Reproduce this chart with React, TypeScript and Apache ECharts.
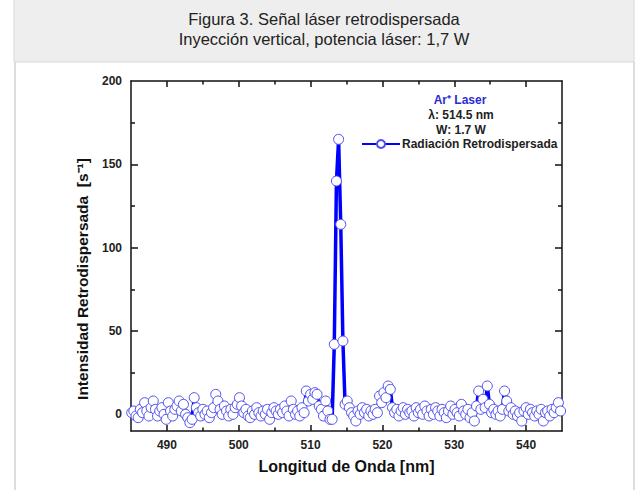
import React, { useEffect, useRef } from "react";
import * as echarts from "echarts";

const titleLines = [
  "Figura 3. Señal láser retrodispersada",
  "Inyección vertical, potencia láser: 1,7 W",
];
const xAxisTitle = "Longitud de Onda [nm]";
const yAxisTitle = "Intensidad Retrodispersada  [s⁻¹]";
const seriesName = "Radiación Retrodispersada";
const noteLines = ["Ar⁺ Laser", "λ: 514.5 nm", "W: 1.7 W"];

const xMajorTicks = [490, 500, 510, 520, 530, 540];
const xMinorTicks = [495, 505, 515, 525, 535];
const yMajorTicks = [0, 50, 100, 150];
const yLabelTicks = [0, 50, 100, 150, 200];
const yMinorTicks = [25, 75, 125, 175];

const wavelengths = [
  485.1, 485.4, 485.7, 486.0, 486.3, 486.6, 486.9, 487.2, 487.5, 487.8,
  488.1, 488.4, 488.7, 489.0, 489.3, 489.6, 489.9, 490.2, 490.5, 490.8,
  491.1, 491.4, 491.7, 492.0, 492.3, 492.6, 492.9, 493.2, 493.5, 493.8,
  494.1, 494.4, 494.7, 495.0, 495.3, 495.6, 495.9, 496.2, 496.5, 496.8,
  497.1, 497.4, 497.7, 498.0, 498.3, 498.6, 498.9, 499.2, 499.5, 499.8,
  500.1, 500.4, 500.7, 501.0, 501.3, 501.6, 501.9, 502.2, 502.5, 502.8,
  503.1, 503.4, 503.7, 504.0, 504.3, 504.6, 504.9, 505.2, 505.5, 505.8,
  506.1, 506.4, 506.7, 507.0, 507.3, 507.6, 507.9, 508.2, 508.5, 508.8,
  509.1, 509.4, 509.7, 510.0, 510.3, 510.6, 510.9, 511.2, 511.5, 511.8,
  512.1, 512.4, 512.7, 513.0, 513.3, 513.6, 513.9, 514.2, 514.5, 514.8,
  515.1, 515.4, 515.7, 516.0, 516.3, 516.6, 516.9, 517.2, 517.5, 517.8,
  518.1, 518.4, 518.7, 519.0, 519.3, 519.6, 519.9, 520.2, 520.5, 520.8,
  521.1, 521.4, 521.7, 522.0, 522.3, 522.6, 522.9, 523.2, 523.5, 523.8,
  524.1, 524.4, 524.7, 525.0, 525.3, 525.6, 525.9, 526.2, 526.5, 526.8,
  527.1, 527.4, 527.7, 528.0, 528.3, 528.6, 528.9, 529.2, 529.5, 529.8,
  530.1, 530.4, 530.7, 531.0, 531.3, 531.6, 531.9, 532.2, 532.5, 532.8,
  533.1, 533.4, 533.7, 534.0, 534.3, 534.6, 534.9, 535.2, 535.5, 535.8,
  536.1, 536.4, 536.7, 537.0, 537.3, 537.6, 537.9, 538.2, 538.5, 538.8,
  539.1, 539.4, 539.7, 540.0, 540.3, 540.6, 540.9, 541.2, 541.5, 541.8,
  542.1, 542.4, 542.7, 543.0, 543.3, 543.6, 543.9, 544.2, 544.5, 544.8,
];

const intensities = [
  1, 2, -1, -2, 3, 1, 7, 2, -1, 4,
  8, 3, -1, 2, 4, 0, -3, 7, 2, -1,
  3, 5, 8, 2, 6, 0, -2, -5, -3, 10,
  4, 1, -1, 3, 0, 2, -2, 1, 4, 12,
  8, 3, 0, 5, 2, -1, 3, 0, 4, 6,
  10, 5, 1, 3, -1, -2, 2, 0, 4, 1,
  -1, 2, 0, 3, -3, 1, 4, 2, 0, 3,
  1, 5, 2, -1, 8, 3, 0, 2, -1, 4,
  1, 14, 8, 12, 9, 13, 12, 5, 3, -1,
  8, 2, -3, -3, 42, 140, 165, 114, 44, 6,
  8, 4, 1, -1, -4, 2, 0, 4, 1, 3,
  -1, 2, 0, 3, 1, 11, 7, 13, 10, 17,
  15, 4, 1, 3, -1, 2, 4, 0, 3, 1,
  2, -1, 4, 1, 3, 0, 5, 2, -1, 3,
  0, 4, 2, -1, 3, 1, -2, 2, 5, 0,
  3, 1, -1, 6, 2, 0, 3, -2, 1, -4,
  5, 14, 3, 9, 4, 17, 6, 1, 3, 0,
  2, -1, 3, 14, 8, 2, 4, 0, 2, -1,
  1, -4, 2, 4, 0, 3, 1, -1, 2, 0,
  3, -4, 1, 2, -1, 3, 1, 4, 7, 2,
];

const FONT = "'Liberation Sans', Arial, Helvetica, sans-serif";
const X_MIN = 485;
const X_MAX = 545;
const Y_MIN = -10;
const Y_MAX = 200;

function xAxisDef(position: "top" | "bottom", ticks: number[], len: number, withLabels: boolean, withLine: boolean) {
  return {
    type: "value",
    position,
    min: X_MIN,
    max: X_MAX,
    interval: 5,
    axisLine: { show: withLine, onZero: false, lineStyle: { color: "#111", width: 1.5 } },
    axisTick: { show: true, inside: true, length: len, customValues: ticks, lineStyle: { color: "#111", width: 1.5 } },
    axisLabel: withLabels
      ? { show: true, customValues: xMajorTicks, fontSize: 12, fontWeight: "bold", color: "#222", fontFamily: FONT, margin: 8 }
      : { show: false },
    splitLine: { show: false },
    ...(withLabels
      ? {
          name: xAxisTitle,
          nameLocation: "middle",
          nameGap: 27,
          nameTextStyle: { fontSize: 16, fontWeight: "bold", color: "#111", fontFamily: FONT },
        }
      : {}),
  };
}

function yAxisDef(position: "left" | "right", ticks: number[], len: number, withLabels: boolean, withLine: boolean) {
  return {
    type: "value",
    position,
    min: Y_MIN,
    max: Y_MAX,
    interval: 10,
    axisLine: { show: withLine, onZero: false, lineStyle: { color: "#111", width: 1.5 } },
    axisTick: { show: true, inside: true, length: len, customValues: ticks, lineStyle: { color: "#111", width: 1.5 } },
    axisLabel: withLabels
      ? { show: true, customValues: yLabelTicks, fontSize: 12, fontWeight: "bold", color: "#222", fontFamily: FONT, margin: 9 }
      : { show: false },
    splitLine: { show: false },
  };
}

export default function App() {
  const ref = useRef<HTMLDivElement>(null);
  useEffect(() => {
    if (!ref.current) return;
    const chart = echarts.init(ref.current, null, { renderer: "svg" });
    const noteStyle = { align: "center", verticalAlign: "middle", fontSize: 12, fontWeight: "bold", fontFamily: FONT, fill: "#222" };
    const option: any = {
      animation: false,
      backgroundColor: "#ffffff",
      grid: { left: 131, top: 81, width: 431, height: 350, containLabel: false },
      xAxis: [
        xAxisDef("bottom", xMajorTicks, 6, true, true),
        xAxisDef("bottom", xMinorTicks, 3.5, false, false),
        xAxisDef("top", xMajorTicks, 6, false, true),
        xAxisDef("top", xMinorTicks, 3.5, false, false),
      ],
      yAxis: [
        yAxisDef("left", yMajorTicks, 7, true, true),
        yAxisDef("left", yMinorTicks, 4, false, false),
        yAxisDef("right", yMajorTicks, 7, false, true),
        yAxisDef("right", yMinorTicks, 4, false, false),
      ],
      legend: {
        show: true,
        data: [seriesName],
        left: 361,
        top: 138,
        itemWidth: 38,
        itemHeight: 10,
        padding: 0,
        textStyle: { fontSize: 12, fontWeight: "bold", color: "#222", fontFamily: FONT, padding: [0, 0, 0, -3] },
      },
      graphic: [
        {
          type: "rect",
          z: -10,
          shape: { x: 14, y: -1, width: 620, height: 63 },
          style: { fill: "#eeeeee", stroke: "#d8d8d8", lineWidth: 1 },
        },
        {
          type: "line",
          z: -10,
          shape: { x1: 15, y1: 62, x2: 15, y2: 490 },
          style: { stroke: "#dddddd", lineWidth: 2 },
        },
        {
          type: "line",
          z: -10,
          shape: { x1: 634, y1: 62, x2: 634, y2: 490 },
          style: { stroke: "#dddddd", lineWidth: 2 },
        },
        {
          type: "text",
          x: 324,
          y: 19,
          style: { text: titleLines[0], align: "center", verticalAlign: "middle", fontSize: 16.5, fontFamily: FONT, fill: "#222" },
        },
        {
          type: "text",
          x: 324,
          y: 39,
          style: { text: titleLines[1], align: "center", verticalAlign: "middle", fontSize: 16.5, fontFamily: FONT, fill: "#222" },
        },
        {
          type: "text",
          x: 82,
          y: 279,
          rotation: Math.PI / 2,
          style: { text: yAxisTitle, align: "center", verticalAlign: "middle", fontSize: 15.5, fontWeight: "bold", fontFamily: FONT, fill: "#111" },
        },
        {
          type: "text",
          x: 460,
          y: 100,
          style: { ...noteStyle, text: noteLines[0], fill: "#2b2bd6" },
        },
        {
          type: "text",
          x: 461,
          y: 115,
          style: { ...noteStyle, text: noteLines[1] },
        },
        {
          type: "text",
          x: 461,
          y: 130,
          style: { ...noteStyle, text: noteLines[2] },
        },
      ],
      series: [
        {
          type: "line",
          name: seriesName,
          xAxisIndex: 0,
          yAxisIndex: 0,
          data: wavelengths.map((w, i) => [w, intensities[i]]),
          symbol: "circle",
          symbolSize: 10,
          showAllSymbol: true,
          clip: true,
          lineStyle: { color: "#0000ff", width: 3.5 },
          itemStyle: { color: "#ffffff", borderColor: "#5050ee", borderWidth: 1 },
        },
      ],
    };
    chart.setOption(option);
    return () => chart.dispose();
  }, []);
  return (
    <div
      ref={ref}
      style={{ position: "absolute", left: 0, top: 0, width: 636, height: 490, background: "#fff" }}
    />
  );
}
